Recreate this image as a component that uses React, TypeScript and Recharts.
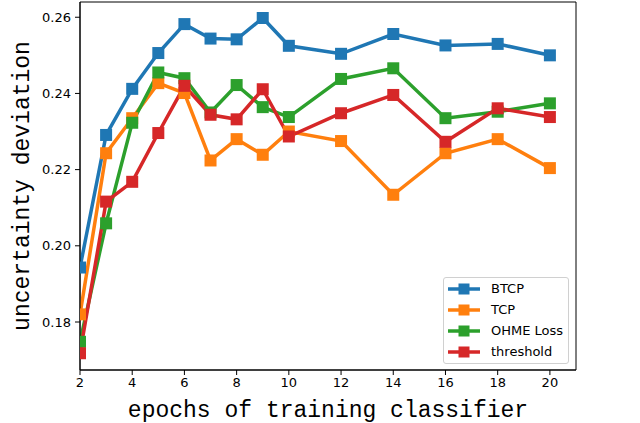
import React from "react";
import {
  LineChart,
  Line,
  XAxis,
  YAxis,
  ReferenceArea,
} from "recharts";

const epochs = [2, 3, 4, 5, 6, 7, 8, 9, 10, 12, 14, 16, 18, 20];
const btcp = [0.1943, 0.2291, 0.2412, 0.2506, 0.2582, 0.2544, 0.2542, 0.2598, 0.2525, 0.2504, 0.2556, 0.2526, 0.253, 0.25];
const tcp = [0.182, 0.2243, 0.2335, 0.2427, 0.2401, 0.2224, 0.228, 0.2239, 0.23, 0.2275, 0.2134, 0.2243, 0.228, 0.2204];
const ohme = [0.1748, 0.2059, 0.2323, 0.2455, 0.244, 0.235, 0.2422, 0.2364, 0.2338, 0.2438, 0.2466, 0.2335, 0.2352, 0.2374];
const threshold = [0.1718, 0.2116, 0.2168, 0.2296, 0.242, 0.2344, 0.2332, 0.2411, 0.2287, 0.2348, 0.2396, 0.2273, 0.2361, 0.2338];

const xTicks = [2, 4, 6, 8, 10, 12, 14, 16, 18, 20];
const yTicks = [0.18, 0.2, 0.22, 0.24, 0.26];
const xDomain: [number, number] = [2, 21];
const yDomain: [number, number] = [0.1674, 0.264];

const series = [
  { key: "btcp", name: "BTCP", color: "#1f77b4", values: btcp },
  { key: "tcp", name: "TCP", color: "#ff7f0e", values: tcp },
  { key: "ohme", name: "OHME Loss", color: "#2ca02c", values: ohme },
  { key: "threshold", name: "threshold", color: "#d62728", values: threshold },
];

const data = epochs.map((epoch, i) => {
  const row: Record<string, number> = { epoch };
  for (const s of series) row[s.key] = s.values[i];
  return row;
});

const titleFont = "'Liberation Mono', monospace";
const tickFont = "'DejaVu Sans', sans-serif";

function squareDot(color: string) {
  return (props: any) => {
    const { cx, cy, index } = props;
    if (cx == null || cy == null) return <g key={index} />;
    return <rect key={index} x={cx - 6} y={cy - 6} width={12} height={12} fill={color} />;
  };
}

function LegendBox() {
  return (
    <div
      style={{
        position: "absolute",
        left: 443,
        top: 277,
        width: 126,
        height: 87,
        border: "1px solid #d0d0d0",
        borderRadius: 3,
        background: "rgba(255,255,255,0.85)",
        fontFamily: tickFont,
        fontSize: 13,
        boxSizing: "border-box",
        paddingTop: 0,
      }}
    >
      {series.map((s) => (
        <div key={s.key} style={{ display: "flex", alignItems: "center", height: 21 }}>
          <svg width={44} height={14} style={{ marginLeft: 3 }}>
            <line x1={1} y1={7} x2={33} y2={7} stroke={s.color} strokeWidth={3.5} />
            <rect x={11.5} y={1.5} width={11} height={11} fill={s.color} />
          </svg>
          <span style={{ color: "#000" }}>{s.name}</span>
        </div>
      ))}
    </div>
  );
}

export default function App() {
  return (
    <div style={{ position: "absolute", left: 0, top: 0, width: 640, height: 423, background: "#fff" }}>
      <LineChart width={640} height={423} data={data} margin={{ top: 2, right: 64, bottom: 0, left: 0 }}>
        <XAxis
          dataKey="epoch"
          type="number"
          domain={xDomain}
          ticks={xTicks}
          allowDataOverflow
          height={53}
          tickSize={5}
          tickMargin={3}
          stroke="#000"
          tick={{ fill: "#000", fontFamily: tickFont, fontSize: 13 }}
          label={{
            content: () => (
              <text x={328} y={417} textAnchor="middle" fontFamily={titleFont} fontSize={23} fill="#000">
                epochs of training classifier
              </text>
            ),
          }}
        />
        <YAxis
          type="number"
          domain={yDomain}
          ticks={yTicks}
          allowDataOverflow
          width={80}
          tickSize={5}
          tickMargin={4}
          stroke="#000"
          tickFormatter={(v: number) => v.toFixed(2)}
          tick={{ fill: "#000", fontFamily: tickFont, fontSize: 13 }}
          label={{
            content: () => (
              <text
                x={0}
                y={0}
                transform="translate(29,186) rotate(-90)"
                textAnchor="middle"
                fontFamily={titleFont}
                fontSize={23}
                fill="#000"
              >
                uncertainty deviation
              </text>
            ),
          }}
        />
        <ReferenceArea x1={xDomain[0]} x2={xDomain[1]} y1={yDomain[0]} y2={yDomain[1]} fill="none" stroke="#000" strokeWidth={1} />
        {series.map((s) => (
          <Line
            key={s.key}
            dataKey={s.key}
            name={s.name}
            type="linear"
            stroke={s.color}
            strokeWidth={3.5}
            dot={squareDot(s.color)}
            activeDot={false}
            isAnimationActive={false}
          />
        ))}
      </LineChart>
      <LegendBox />
    </div>
  );
}
